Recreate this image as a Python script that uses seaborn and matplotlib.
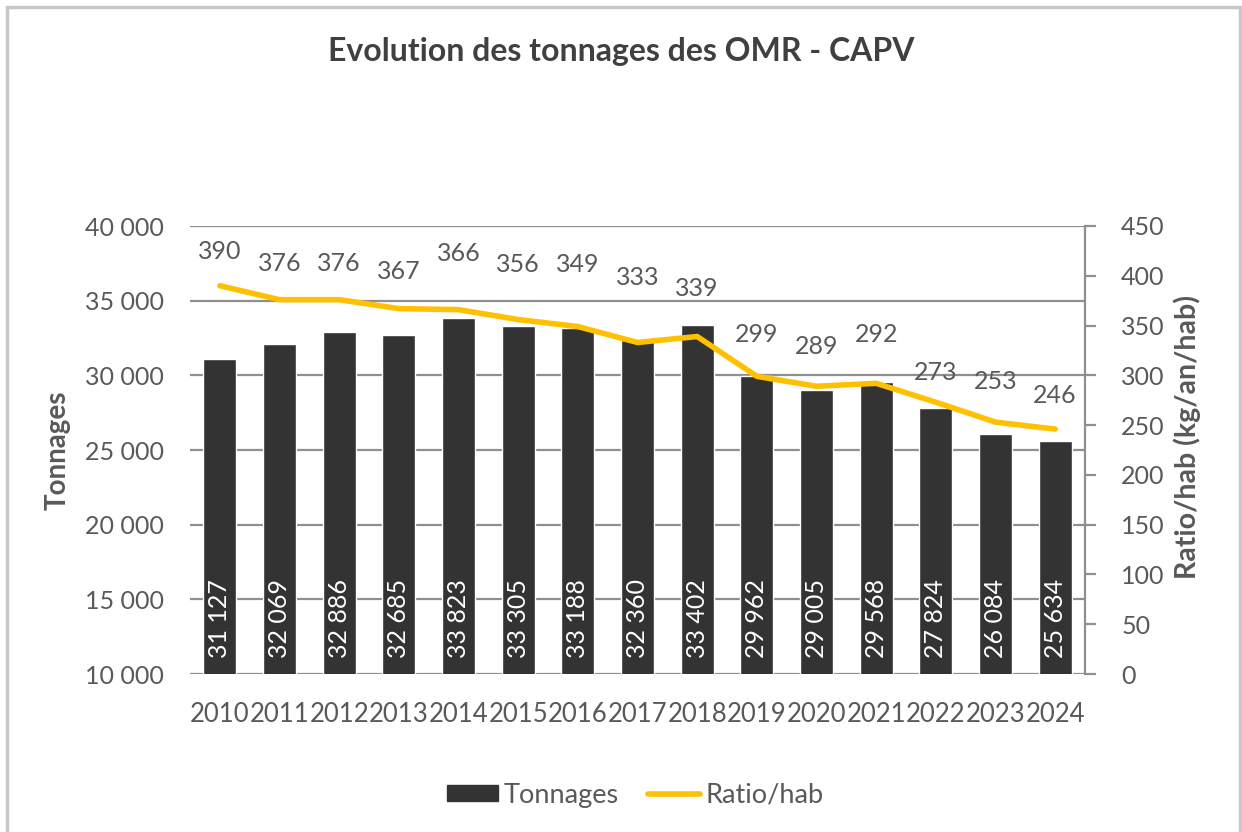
import numpy as np
import pandas as pd
import matplotlib
matplotlib.use("Agg")
import matplotlib.pyplot as plt
import seaborn as sns
from matplotlib.patches import Rectangle
from matplotlib.lines import Line2D

years = ["2010", "2011", "2012", "2013", "2014", "2015", "2016", "2017",
         "2018", "2019", "2020", "2021", "2022", "2023", "2024"]
tonnages = [31127, 32069, 32886, 32685, 33823, 33305, 33188, 32360,
            33402, 29962, 29005, 29568, 27824, 26084, 25634]
ratio = [390, 376, 376, 367, 366, 356, 349, 333, 339, 299, 289, 292, 273, 253, 246]

# vertical offsets (pixels) of the ratio labels above their points, as placed in the reference
label_dy = [34, 36, 36, 37, 56, 55, 62, 65, 48, 42, 40, 49, 30, 41, 34]

sns.set_theme(style="white")
plt.rcParams['font.family'] = ['Lato', 'DejaVu Sans']

TXT = "#595959"
BAR = "#333333"
LINE = "#FFC000"
GRID = "#8F8F8F"

df = pd.DataFrame({"year": years, "tonnages": tonnages, "ratio": ratio})

fig = plt.figure(figsize=(12.42, 8.32), dpi=100)
ax = fig.add_axes([190/1242, 1-674/832, (1085-190)/1242, (674-226)/832])

sns.barplot(data=df, x="year", y="tonnages", color=BAR, saturation=1,
            width=0.55, ax=ax, zorder=2)
ax.set_ylim(10000, 40000)
ax.set_xlim(-0.5, len(years)-0.5)
ax.set_yticks(np.arange(10000, 40001, 5000))
ax.set_yticklabels([f"{v:,}".replace(",", " ") for v in np.arange(10000, 40001, 5000)])
ax.grid(axis="y", color=GRID, lw=1.6, zorder=0)
ax.set_axisbelow(True)
for s in ax.spines.values():
    s.set_visible(False)
ax.tick_params(axis="y", length=0, pad=19, labelsize=18, labelcolor=TXT)
ax.tick_params(axis="x", length=0, pad=20, labelsize=18.5, labelcolor=TXT)
ax.set_xlabel("")
ax.set_ylabel("Tonnages", fontsize=20, fontweight="bold", color=TXT, labelpad=10)

for i, v in enumerate(tonnages):
    ax.annotate(f"{v:,}".replace(",", " "), xy=(i, 10000), xytext=(0, 16),
                textcoords="offset pixels", ha="center", va="bottom",
                rotation=90, color="white", fontsize=18, zorder=5)

ax2 = ax.twinx()
sns.lineplot(x=np.arange(len(years)), y=ratio, color=LINE, lw=4, ax=ax2,
             zorder=3)
ax2.set_ylim(0, 450)
ax2.set_yticks(np.arange(0, 451, 50))
ax2.set_xlim(-0.5, len(years)-0.5)
for k, s in ax2.spines.items():
    s.set_visible(k == "right")
ax2.spines["right"].set_color(GRID)
ax2.spines["right"].set_linewidth(1.6)
ax2.tick_params(axis="y", length=8, width=1.6, color=GRID, pad=18,
                labelsize=18, labelcolor=TXT)
ax2.set_ylabel("Ratio/hab (kg/an/hab)", fontsize=20.5, fontweight="bold",
               color=TXT, labelpad=8)
ax2.yaxis.set_label_coords(1173/1242, 1-437/832, transform=fig.transFigure)

for i, (v, dy) in enumerate(zip(ratio, label_dy)):
    ax2.annotate(str(v), xy=(i, v), xytext=(0, dy), textcoords="offset pixels",
                 ha="center", va="center", color=TXT, fontsize=18, zorder=6)

fig.suptitle("Evolution des tonnages des OMR - CAPV", x=0.5, y=1-51/832,
             va="center", fontsize=23, fontweight="bold", color="#404040")

handles = [Rectangle((0, 0), 1, 1, color=BAR), Line2D([0], [0], color=LINE, lw=4)]
fig.legend(handles, ["Tonnages", "Ratio/hab"], loc="center",
           bbox_to_anchor=(635/1242, 1-795/832), ncol=2, frameon=False,
           fontsize=19.5, labelcolor=TXT, handlelength=1.9, handleheight=0.55,
           handletextpad=0.2, columnspacing=1.1)

fig.add_artist(Rectangle((7/1242, -0.01), (1240-7)/1242, 1-7/832+0.01,
                         transform=fig.transFigure, fill=False,
                         edgecolor="#C8C8C8", lw=2.5))

fig.savefig("out.png", dpi=100)
